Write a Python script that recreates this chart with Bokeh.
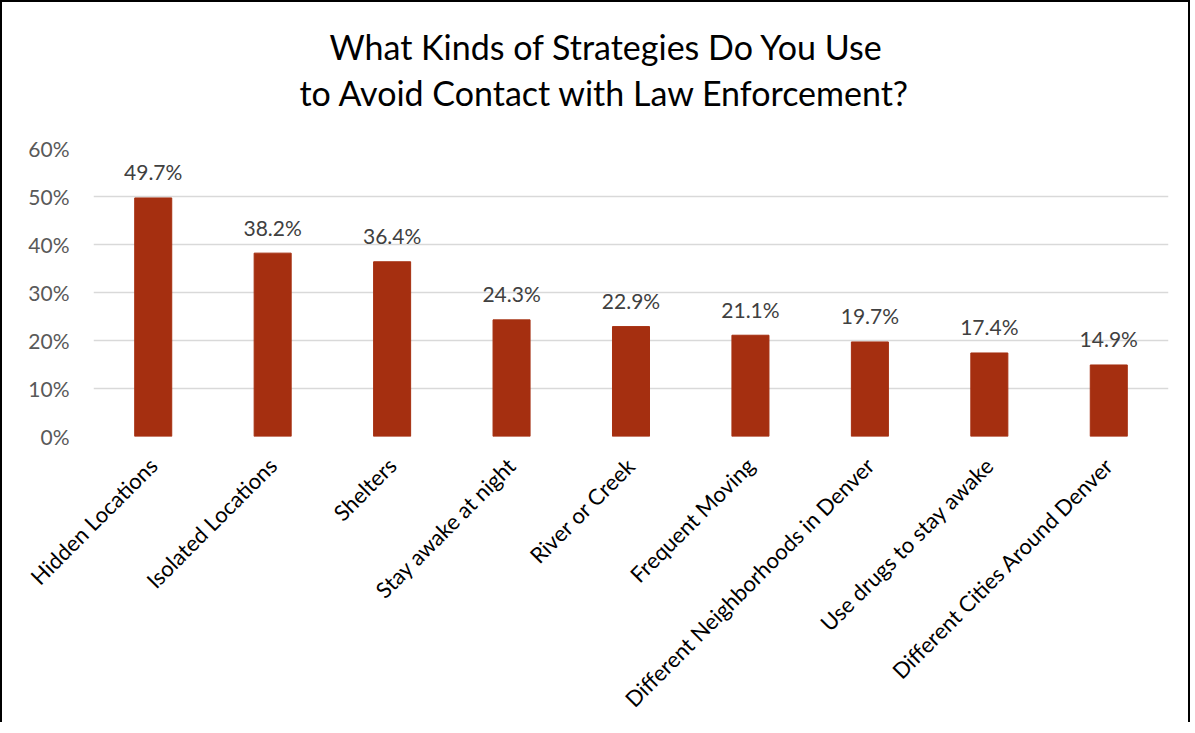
from bokeh.plotting import figure
from bokeh.models import Range1d, FixedTicker, PrintfTickFormatter, Title, ColumnDataSource
from bokeh.core.properties import value
from bokeh.embed import file_html
from bokeh.resources import INLINE
import math

title_lines = ["What Kinds of Strategies Do You Use", "to Avoid Contact with Law Enforcement?"]
categories = ["Hidden Locations", "Isolated Locations", "Shelters", "Stay awake at night",
              "River or Creek", "Frequent Moving", "Different Neighborhoods in Denver",
              "Use drugs to stay awake", "Different Cities Around Denver"]
values = [49.7, 38.2, 36.4, 24.3, 22.9, 21.1, 19.7, 17.4, 14.9]
y_ticks = [0, 10, 20, 30, 40, 50, 60]

FONT = "Lato"
BAR = "#A52F10"

src = ColumnDataSource(dict(cat=categories, val=values,
                            lab=[f"{v:.1f}%" for v in values]))

p = figure(x_range=categories, y_range=Range1d(0, 60), width=1190, height=722,
           output_backend="svg", toolbar_location=None,
           min_border_left=91, min_border_right=24, min_border_top=146, min_border_bottom=287)
p.styles = {"border-left": "2px solid black", "border-top": "2px solid black",
            "border-right": "2px solid black"}
p.outline_line_color = None
p.background_fill_color = "white"
p.border_fill_color = "white"

p.vbar(x="cat", top="val", width=0.31, source=src, fill_color=BAR, line_color=BAR)
p.text(x="cat", y="val", text="lab", source=src, y_offset=-26,
       text_align="center", text_baseline="middle",
       text_font=value(FONT), text_font_size="21px", text_color="#404040")

p.x_range.range_padding = 0
p.xgrid.grid_line_color = None
p.ygrid.grid_line_color = "#D9D9D9"
p.ygrid.grid_line_width = 1.5
p.yaxis.ticker = FixedTicker(ticks=y_ticks)
p.yaxis.formatter = PrintfTickFormatter(format="%d%%")

for ax in (p.xaxis, p.yaxis):
    ax.axis_line_color = None
    ax.major_tick_line_color = None
    ax.minor_tick_line_color = None
    ax.major_label_text_font = FONT

p.yaxis.major_label_text_font_size = "21px"
p.yaxis.major_label_text_color = "#595959"
p.yaxis.major_label_standoff = 18
p.xaxis.major_label_text_font_size = "22px"
p.xaxis.major_label_text_color = "#000000"
p.xaxis.major_label_orientation = math.pi / 4
p.xaxis.major_label_standoff = 19

# spacer between plot and title block
p.add_layout(Title(text=" ", text_font_size="1px", standoff=31), "above")
# inner line first (closest to the plot), then outer line
for t, so, off in zip(reversed(title_lines), [3, 3], [206, 236]):
    p.add_layout(Title(text=t, align="left", offset=off, standoff=so,
                       text_font=FONT, text_font_size="34px", text_font_style="normal",
                       text_color="#000000"), "above")

open("out.html", "w").write(file_html(p, INLINE))
